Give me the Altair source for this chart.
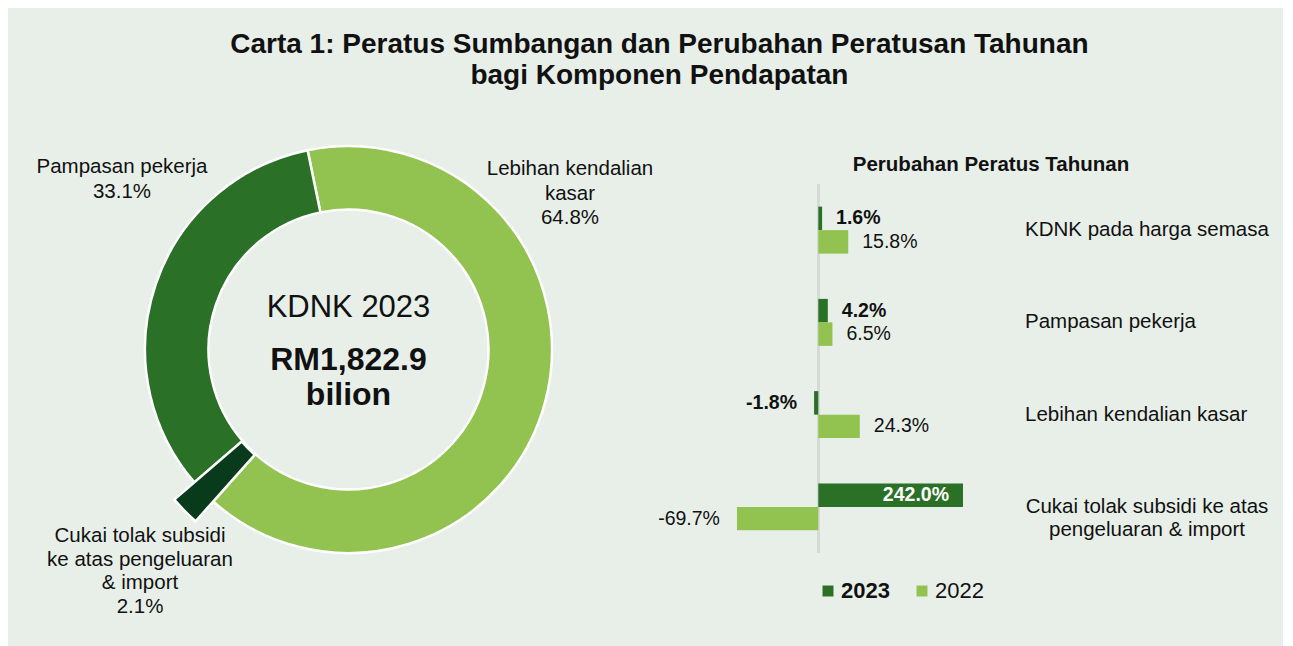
import math
import altair as alt
import pandas as pd

FONT = "Liberation Sans"
INK = "#111111"
BG = "#E8EFE9"
DARK = "#2A7027"
LIGHT = "#92C350"
DEEP = "#083B1C"

# ---- donut data ----
slice_names = ["Lebihan kendalian kasar",
               "Cukai tolak subsidi ke atas pengeluaran & import",
               "Pampasan pekerja"]
slice_shares = [64.8, 2.1, 33.1]
slice_colors = [LIGHT, DEEP, DARK]
gdp_title = "KDNK 2023"
gdp_value = "RM1,822.9"
gdp_unit = "bilion"

# ---- bar data ----
components = ["KDNK pada harga semasa", "Pampasan pekerja",
              "Lebihan kendalian kasar",
              "Cukai tolak subsidi ke atas pengeluaran & import"]
component_display = ["KDNK pada harga semasa", "Pampasan pekerja",
                     "Lebihan kendalian kasar",
                     "Cukai tolak subsidi ke atas\npengeluaran & import"]
growth_2023 = [1.6, 4.2, -1.8, 242.0]
growth_2022 = [15.8, 6.5, 24.3, -69.7]
years = ["2023", "2022"]

# ---------------- donut panel ----------------
donut_df = pd.DataFrame({"name": slice_names, "share": slice_shares,
                         "ord": list(range(len(slice_names)))})
start = math.radians(-11.6)
theta = alt.Theta("share:Q", stack=True,
                  scale=alt.Scale(range=[start, start + 2 * math.pi]))
color = alt.Color("name:N", scale=alt.Scale(domain=slice_names, range=slice_colors), legend=None)

ring = alt.Chart(donut_df).mark_arc(innerRadius=140, outerRadius=203.5,
                                    stroke="white", strokeWidth=2.5).encode(
    theta=theta, color=color, order=alt.Order("ord:Q"))
explode = alt.Chart(donut_df).mark_arc(innerRadius=141, outerRadius=230,
                                       stroke="white", strokeWidth=2.5).encode(
    theta=theta, color=color, order=alt.Order("ord:Q"),
    opacity=alt.condition(alt.datum.name == slice_names[1], alt.value(1), alt.value(0)))

one = pd.DataFrame({"k": [0]})

def note(lines, x, y, size=20.5, weight="normal", lh=24.5, align="center"):
    return alt.Chart(one).mark_text(text=lines, font=FONT, fontSize=size, fontWeight=weight,
                                    color=INK, align=align, baseline="alphabetic",
                                    lineHeight=lh).encode(x=alt.value(x), y=alt.value(y))

lbl = lambda i: f"{slice_shares[i]:.1f}%"
donut_notes = [
    note(["Pampasan pekerja", lbl(2)], 114, -11),
    note(["Lebihan kendalian", "kasar", lbl(0)], 562, -9),
    note(["Cukai tolak subsidi", "ke atas pengeluaran", "& import", lbl(1)], 132, 358, lh=23.7),
    note([gdp_title], 340.5, 133, size=31),
    note([gdp_value], 340.5, 186, size=32, weight="bold"),
    note([gdp_unit], 340.5, 221, size=32, weight="bold"),
]
donut = alt.layer(ring, explode, *donut_notes).properties(width=681, height=331)

# ---------------- bar panel ----------------
HALF = 0.2547  # each bar's share of a category slot
rows = []
for i, (comp, v23, v22) in enumerate(zip(components, growth_2023, growth_2022)):
    for j, (yr, v) in enumerate((("2023", v23), ("2022", v22))):
        pos = "neg" if v < 0 else ("in" if v > 150 else "pos")
        top = i - HALF + j * HALF
        rows.append({"component": comp, "year": yr, "value": v, "zero": 0.0,
                     "label": f"{v:.1f}%", "pos": pos,
                     "y0": top, "y1": top + HALF, "ym": top + HALF / 2})
bar_df = pd.DataFrame(rows)

xs = alt.Scale(type="symlog", constant=25, domain=[-100, 300], nice=False)
ys = alt.Scale(domain=[-0.5, len(components) - 0.5], reverse=True, zero=False, nice=False)
X = alt.X("value:Q", scale=xs, axis=None)

base = alt.Chart(bar_df)
zero = base.mark_rule(color="#D5D9D6", strokeWidth=2).encode(
    x=alt.X("zero:Q", scale=xs, axis=None))
bars = base.mark_bar().encode(
    x=X, x2="zero:Q",
    y=alt.Y("y0:Q", scale=ys, axis=None), y2="y1:Q",
    color=alt.Color("year:N", sort=years, scale=alt.Scale(domain=years, range=[DARK, LIGHT]),
                    legend=alt.Legend(title=None, orient="none", legendX=97, legendY=396,
                                      direction="horizontal", symbolType="square",
                                      symbolSize=120, symbolStrokeWidth=0,
                                      labelFontSize=22, labelFont=FONT, labelColor=INK,
                                      labelFontWeight={"expr": "datum.label == '2023' ? 'bold' : 'normal'"},
                                      columnPadding=21, labelOffset=2)))

def vlabel(year, pos, align, dx, weight, col=INK):
    return base.transform_filter(
        (alt.datum.year == year) & (alt.datum.pos == pos)
    ).mark_text(font=FONT, fontSize=19.5, fontWeight=weight, color=col, align=align,
                baseline="middle", dx=dx).encode(
        x=X, y=alt.Y("ym:Q", scale=ys, axis=None), text="label:N")

labels = [
    vlabel("2023", "pos", "left", 14, "bold"),
    vlabel("2023", "neg", "right", -17, "bold"),
    vlabel("2023", "in", "right", -14, "bold", "white"),
    vlabel("2022", "pos", "left", 14, "normal"),
    vlabel("2022", "neg", "right", -17, "normal"),
]

cat_df = pd.DataFrame({"component": components, "disp": component_display,
                       "idx": list(range(len(components))),
                       "multi": ["\n" in d for d in component_display]})
cat_single = alt.Chart(cat_df).transform_filter("!datum.multi").mark_text(
    font=FONT, fontSize=20.5, color=INK, align="left", baseline="middle", lineBreak="\n"
).encode(x=alt.value(305), y=alt.Y("idx:Q", scale=ys, axis=None), text="disp:N")
cat_multi = alt.Chart(cat_df).transform_filter("datum.multi").mark_text(
    font=FONT, fontSize=20.5, color=INK, align="center", baseline="middle", lineBreak="\n",
    lineHeight=23
).encode(x=alt.value(427), y=alt.Y("idx:Q", scale=ys, axis=None), text="disp:N")

subtitle = note(["Perubahan Peratus Tahunan"], 271, -13, size=20.5, weight="bold")

barpanel = alt.layer(zero, bars, *labels, cat_single, cat_multi, subtitle).properties(
    width=255, height=369)

chart = alt.hconcat(donut, barpanel, spacing=31, bounds="flush").resolve_scale(
    color="independent"
).properties(
    title=alt.TitleParams(
        ["Carta 1: Peratus Sumbangan dan Perubahan Peratusan Tahunan", "bagi Komponen Pendapatan"],
        font=FONT, fontSize=28, fontWeight="bold", color=INK, anchor="middle",
        lineHeight=31, offset=30, dx=21),
    background=BG,
    padding={"left": 0, "top": 22, "right": 14, "bottom": 29},
).configure_view(stroke=None)

chart.save("out.html", embed_options={"renderer": "svg", "actions": False})
